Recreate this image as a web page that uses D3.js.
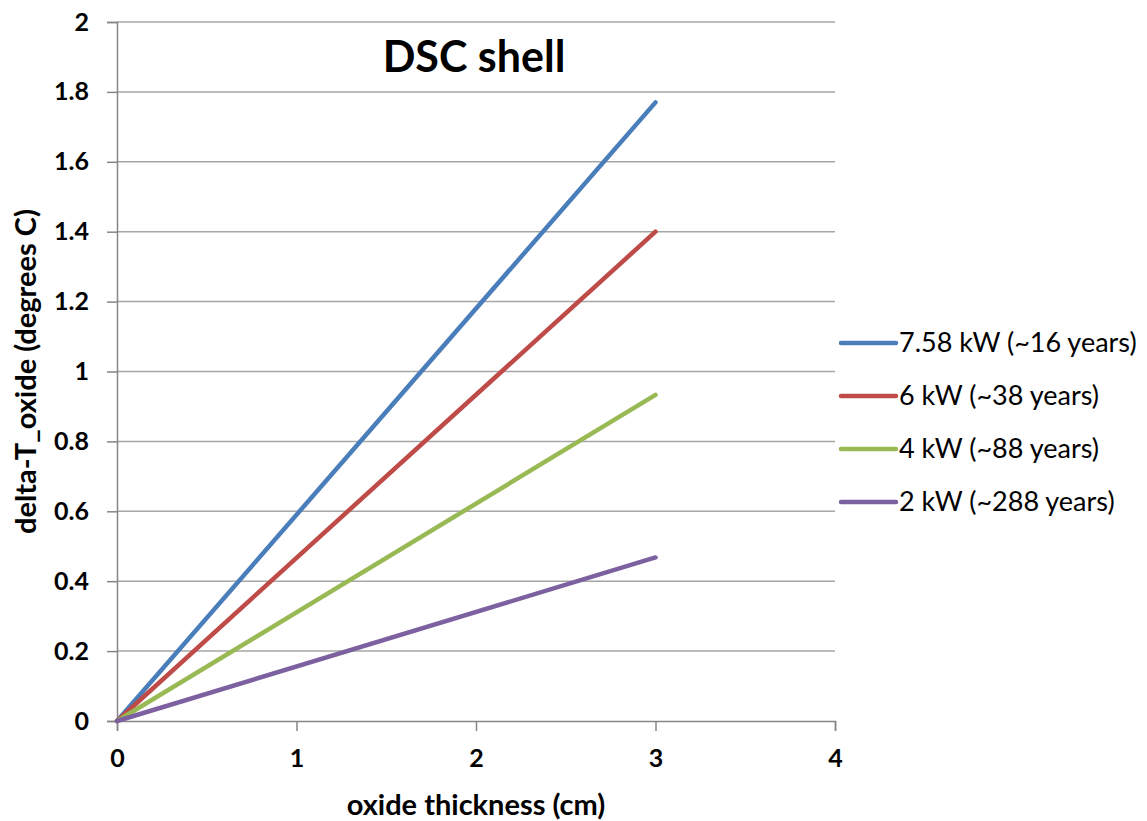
<!DOCTYPE html>
<html>
  <head>
    <meta charset="utf-8">
    <title>DSC shell</title>
    <script src="https://d3js.org/d3.v7.min.js"></script>
    <style>
      body { margin: 0; background: #fff; }
      svg { font-family: Lato, "Open Sans", sans-serif; }
    </style>
  </head>
  <body>
    <svg id="chart" width="1147" height="821"></svg>
    <script>
      // data
      const thickness = [0, 3];
      const seriesNames = ["7.58 kW (~16 years)", "6 kW (~38 years)", "4 kW (~88 years)", "2 kW (~288 years)"];
      const deltaT = [
        [0, 1.77],
        [0, 1.40],
        [0, 0.933],
        [0, 0.468]
      ];
      const colours = ["#4a7ebb", "#be4b48", "#98b954", "#7d60a0"];
      const xTicks = [0, 1, 2, 3, 4];
      const yTicks = [0, 0.2, 0.4, 0.6, 0.8, 1, 1.2, 1.4, 1.6, 1.8, 2];

      const chart = d3.select("#chart");
      const margin = { top: 22, right: 312, bottom: 100, left: 117 };
      const width = 1147, height = 821;

      const x = d3.scaleLinear().domain([0, 4]).range([margin.left, width - margin.right]);
      const y = d3.scaleLinear().domain([0, 2]).range([height - margin.bottom, margin.top]);

      // gridlines
      chart.append("g")
        .selectAll("line")
        .data(yTicks.slice(1))
        .join("line")
          .attr("x1", x(0))
          .attr("x2", x(4))
          .attr("y1", d => y(d))
          .attr("y2", d => y(d))
          .attr("stroke", "#a6a6a6")
          .attr("stroke-width", 1.5);

      // axes
      const yAxis = d3.axisLeft(y).tickValues(yTicks).tickSize(10).tickPadding(18)
        .tickFormat(d3.format("~g"));
      const xAxis = d3.axisBottom(x).tickValues(xTicks).tickSize(10).tickPadding(18)
        .tickFormat(d3.format("~g"));
      [chart.append("g").attr("transform", "translate(" + x(0) + ",0)").call(yAxis),
       chart.append("g").attr("transform", "translate(0," + y(0) + ")").call(xAxis)]
        .forEach(function(g) {
          g.select(".domain").attr("stroke", "#868686").attr("stroke-width", 1.5);
          g.selectAll(".tick line").attr("stroke", "#868686").attr("stroke-width", 1.5);
          g.selectAll(".tick text")
            .attr("fill", "#000")
            .style("font-size", "25px")
            .style("font-weight", "bold")
            .style("font-family", "Lato, sans-serif");
        });

      // series lines
      const line = d3.line()
        .x((d, i) => x(thickness[i]))
        .y(d => y(d));
      chart.append("g")
        .selectAll("path")
        .data(deltaT)
        .join("path")
          .attr("d", d => line(d))
          .attr("fill", "none")
          .attr("stroke", (d, i) => colours[i])
          .attr("stroke-width", 4.5)
          .attr("stroke-linecap", "round");

      // title
      chart.append("text")
        .attr("x", 474)
        .attr("y", 72)
        .attr("text-anchor", "middle")
        .style("font-size", "43px")
        .style("font-weight", "bold")
        .text("DSC shell");

      // axis titles
      chart.append("text")
        .attr("x", x(2))
        .attr("y", 815)
        .attr("text-anchor", "middle")
        .style("font-size", "29px")
        .style("font-weight", "bold")
        .text("oxide thickness (cm)");
      chart.append("text")
        .attr("transform", "translate(36," + y(1) + ") rotate(-90)")
        .attr("text-anchor", "middle")
        .style("font-size", "29px")
        .style("font-weight", "bold")
        .text("delta-T_oxide (degrees C)");

      // legend
      const legend = chart.append("g")
        .selectAll("g")
        .data(seriesNames)
        .join("g")
          .attr("transform", (d, i) => "translate(841," + (343 + i * 53) + ")");
      legend.append("line")
        .attr("x1", 0).attr("x2", 55)
        .attr("stroke", (d, i) => colours[i])
        .attr("stroke-width", 4.5)
        .attr("stroke-linecap", "round");
      legend.append("text")
        .attr("x", 58)
        .attr("dy", "0.35em")
        .style("font-size", "27px")
        .text(d => d);
    </script>
  </body>
</html>
